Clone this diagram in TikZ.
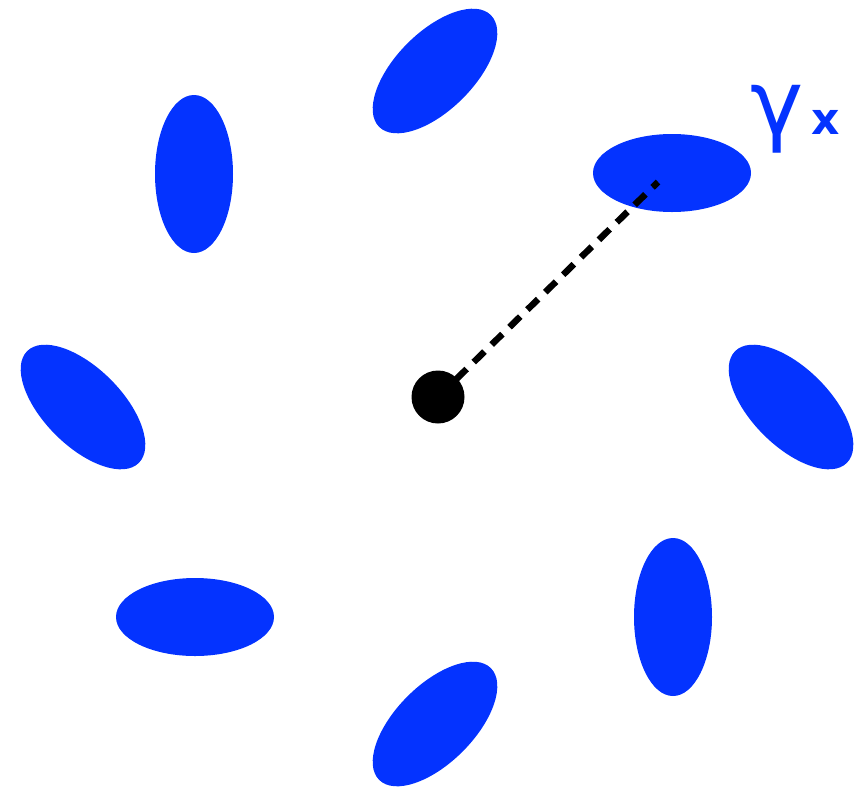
\documentclass[tikz,border=0pt]{standalone}
\usepackage{fontspec}
\newfontfamily\lblfont{DejaVu Sans}
\definecolor{ellblue}{HTML}{0433FF}
\begin{document}
\begin{tikzpicture}[x=1pt,y=-1pt,
  blob/.style={fill=ellblue,draw=none},
  lbl/.style={text=ellblue,inner sep=0pt,outer sep=0pt}]
\useasboundingbox (0,0) rectangle (854,788);
% ellipses
\fill[blob] (435,71) ellipse[x radius=79,y radius=39,rotate=45];
\fill[blob] (672,173) ellipse[x radius=79,y radius=39];
\fill[blob] (194,174) ellipse[x radius=39,y radius=79];
\fill[blob] (83,407) ellipse[x radius=79,y radius=39,rotate=-45];
\fill[blob] (791,407) ellipse[x radius=79,y radius=39,rotate=-45];
\fill[blob] (195,617) ellipse[x radius=79,y radius=39];
\fill[blob] (673,617) ellipse[x radius=39,y radius=79];
\fill[blob] (435,724) ellipse[x radius=79,y radius=39,rotate=45];
% centre and dashed radius
\node[circle,fill=black,minimum size=53pt,inner sep=0pt] (c) at (438,397) {};
\coordinate (p) at (658,182);
\draw[line width=6.5pt,dash pattern=on 15pt off 10pt] (c.center) -- (p);
% label
\node[lbl,anchor=base west,font=\lblfont\fontsize{90}{90}\selectfont] (g) at (750,134) {γ};
\node[lbl,anchor=base west,font=\lblfont\bfseries\fontsize{44}{44}\selectfont] (sx) at (811,134) {x};
\end{tikzpicture}
\end{document}
